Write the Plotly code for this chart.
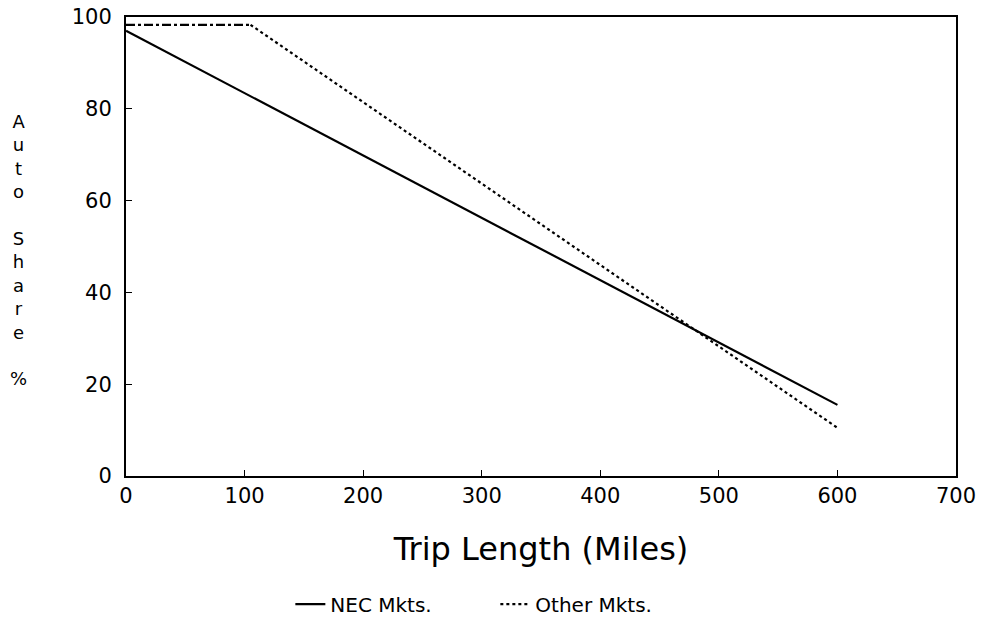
import plotly.graph_objects as go

nec_x = [0, 600]
nec_y = [97, 15.5]
other_flat_x = [0, 105]
other_flat_y = [98.3, 98.3]
other_x = [105, 600]
other_y = [98.3, 10.5]

x_ticks = [0, 100, 200, 300, 400, 500, 600, 700]
y_ticks = [0, 20, 40, 60, 80, 100]

font_family = "DejaVu Sans, Liberation Sans, sans-serif"

fig = go.Figure()
fig.add_trace(go.Scatter(x=nec_x, y=nec_y, mode="lines", name="NEC Mkts.",
                         line=dict(color="black", width=2.2)))
fig.add_trace(go.Scatter(x=other_flat_x, y=other_flat_y, mode="lines", showlegend=False,
                         line=dict(color="black", width=2.2, dash="dashdot")))
fig.add_trace(go.Scatter(x=other_x, y=other_y, mode="lines", name="Other Mkts.",
                         line=dict(color="black", width=2.2, dash="dot")))

fig.update_layout(
    width=985, height=626,
    margin=dict(l=126, r=29, t=17, b=150, autoexpand=False),
    plot_bgcolor="white", paper_bgcolor="white",
    font=dict(family=font_family, color="black"),
    showlegend=True,
    legend=dict(orientation="h", x=0.445, xanchor="center", y=-0.279, yanchor="middle",
                font=dict(size=20), entrywidth=160, entrywidthmode="pixels"),
)
fig.update_xaxes(range=[0, 700], tickvals=x_ticks, ticktext=[str(v) for v in x_ticks],
                 showgrid=False, zeroline=False, showline=True, linecolor="black", linewidth=2,
                 mirror=True, ticks="inside", ticklen=6, tickcolor="black", automargin=False,
                 ticklabeloverflow="allow",
                 tickfont=dict(size=21), title=dict(text="Trip Length (Miles)", font=dict(size=32), standoff=30))
fig.update_yaxes(range=[0, 100], tickvals=y_ticks, ticktext=[str(v) for v in y_ticks],
                 showgrid=False, zeroline=False, showline=True, linecolor="black", linewidth=2,
                 mirror=True, ticks="inside", ticklen=6, tickcolor="black", automargin=False,
                 ticklabeloverflow="allow",
                 tickfont=dict(size=21), ticklabelstandoff=8)

fig.add_annotation(text="A<br>u<br>t<br>o<br> <br>S<br>h<br>a<br>r<br>e<br> <br>%",
                   xref="paper", yref="paper", x=-0.13, y=0.492, xanchor="center", yanchor="middle",
                   showarrow=False, font=dict(size=18, family=font_family))

fig.write_html("out.html", config={"displayModeBar": False},
               post_script="document.body.style.margin='0';document.body.style.overflow='hidden';")
